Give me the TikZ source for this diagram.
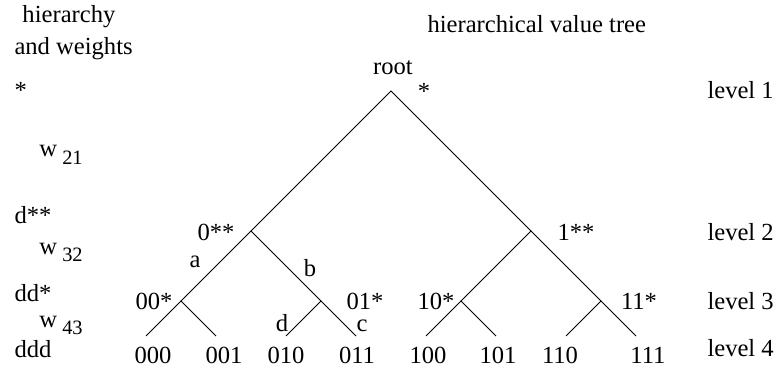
\documentclass[tikz,border=0pt]{standalone}
\usepackage{fontspec}
\setmainfont{Liberation Serif}
\newcommand{\wsub}[1]{w\hspace{2.5pt}\raisebox{-3.5pt}{\fontsize{10.2}{11}\selectfont #1}}
\begin{document}
\begin{tikzpicture}[x=0.5pt,y=-0.5pt,
  font=\fontsize{12.3}{14}\selectfont, line width=0.5pt,
  lbl/.style={inner sep=0pt, anchor=base},
  lbw/.style={inner sep=0pt, anchor=base west}]
\useasboundingbox (0,0) rectangle (777,374);
% tree junctions
\coordinate (root) at (391,91);
\coordinate (n0) at (251,231);
\coordinate (n1) at (531,231);
\coordinate (n00) at (181,301);
\coordinate (n01) at (321,301);
\coordinate (n10) at (461,301);
\coordinate (n11) at (601,301);
\coordinate (l000) at (146,336);
\coordinate (l001) at (216,336);
\coordinate (l010) at (286,336);
\coordinate (l011) at (356,336);
\coordinate (l100) at (426,336);
\coordinate (l101) at (496,336);
\coordinate (l110) at (566,336);
\coordinate (l111) at (636,336);
% edges
\draw (n0) -- (root) -- (n1);
\draw (n00) -- (n0) -- (n01);
\draw (n10) -- (n1) -- (n11);
\draw (l000) -- (n00) -- (l001);
\draw (l010) -- (n01) -- (l011);
\draw (l100) -- (n10) -- (l101);
\draw (l110) -- (n11) -- (l111);
% titles
\node[lbw] (t1) at (22,23) {hierarchy};
\node[lbw] (t2) at (14,55) {and weights};
\node[lbw] (t3) at (427,33) {hierarchical value tree};
% left column
\node[lbw] (h1) at (14,99) {*};
\node[lbw] (w21) at (39,157) {\wsub{21}};
\node[lbw] (h2) at (14,223) {d**};
\node[lbw] (w32) at (39,254) {\wsub{32}};
\node[lbw] (h3) at (14,301) {dd*};
\node[lbw] (w43) at (39,327) {\wsub{43}};
\node[lbw] (h4) at (14,357) {ddd};
% levels
\node[lbw] (lv1) at (707,99) {level 1};
\node[lbw] (lv2) at (707,241) {level 2};
\node[lbw] (lv3) at (707,309) {level 3};
\node[lbw] (lv4) at (707,356) {level 4};
% node labels
\node[lbl] (troot) at (393,75) {root};
\node[lbl] (tstar) at (424,100) {*};
\node[lbl] (t0) at (216,241) {0**};
\node[lbl] (t1s) at (576,241) {1**};
\node[lbl] (ta) at (195,267) {a};
\node[lbl] (tb) at (310,277) {b};
\node[lbl] (t00) at (154,309) {00*};
\node[lbl] (t01) at (365,309) {01*};
\node[lbl] (t10) at (436,309) {10*};
\node[lbl] (t11) at (639,309) {11*};
\node[lbl] (td) at (282,331) {d};
\node[lbl] (tc) at (362,331) {c};
% leaves
\node[lbl] (x000) at (153,363) {000};
\node[lbl] (x001) at (224,363) {001};
\node[lbl] (x010) at (286,363) {010};
\node[lbl] (x011) at (357,363) {011};
\node[lbl] (x100) at (428,363) {100};
\node[lbl] (x101) at (498,363) {101};
\node[lbl] (x110) at (560,363) {110};
\node[lbl] (x111) at (648,363) {111};
\end{tikzpicture}
\end{document}
